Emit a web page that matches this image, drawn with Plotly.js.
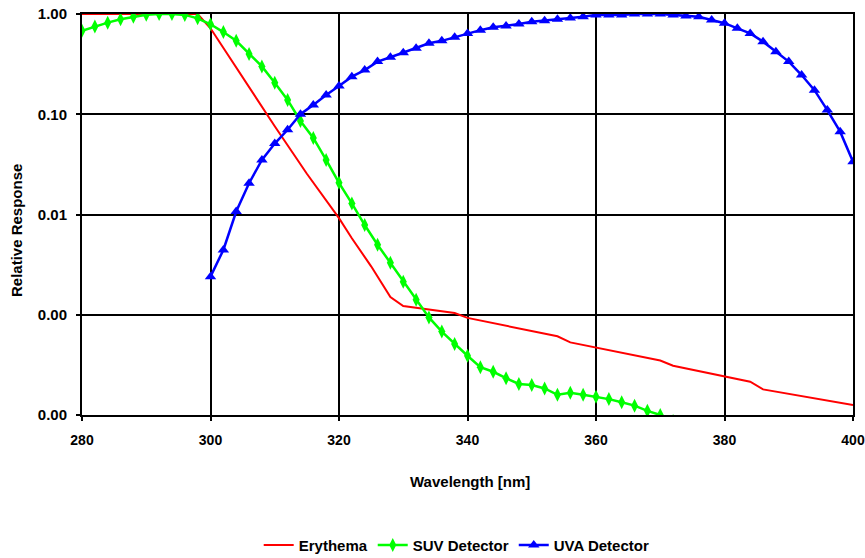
<!DOCTYPE html>
<html>
<head>
<meta charset="utf-8">
<script src="https://cdn.plot.ly/plotly-3.0.1.min.js"></script>
<style>html,body{margin:0;padding:0;background:#fff;}#chart{width:865px;height:558px;}</style>
</head>
<body>
<div id="chart"></div>
<script>
// Erythema (red)
const eryWl  = [280, 298, 300, 305, 310, 315, 320, 322, 325, 328, 330, 338, 340, 354, 356, 370, 372, 384, 386, 400];
const eryVal = [1.0, 1.0, 0.72, 0.233, 0.076, 0.0255, 0.0092, 0.0058, 0.00304, 0.0015, 0.00122, 0.00104, 0.00093, 0.00061, 0.00053, 0.00035, 0.00031, 0.000215, 0.00018, 0.000126];

// SUV Detector (green), every 2 nm
const suvWl  = [280, 282, 284, 286, 288, 290, 292, 294, 296, 298, 300, 302, 304, 306, 308, 310, 312, 314, 316, 318, 320, 322, 324, 326, 328, 330, 332, 334, 336, 338, 340, 342, 344, 346, 348, 350, 352, 354, 356, 358, 360, 362, 364, 366, 368, 370, 372];
const suvVal = [0.68, 0.75, 0.82, 0.885, 0.94, 0.985, 1.0, 1.0, 0.98, 0.905, 0.79, 0.66, 0.54, 0.40, 0.30, 0.206, 0.139, 0.0857, 0.058, 0.035, 0.0207, 0.0129, 0.00785, 0.0050, 0.0033, 0.00214, 0.00141, 0.00094, 0.00068, 0.00051, 0.00039, 0.00030, 0.00027, 0.000233, 0.000204, 0.000199, 0.000184, 0.000159, 0.000167, 0.000159, 0.000152, 0.000144, 0.000134, 0.000124, 0.000110, 0.000100, 0.000087];

// UVA Detector (blue), every 2 nm
const uvaWl  = [300, 302, 304, 306, 308, 310, 312, 314, 316, 318, 320, 322, 324, 326, 328, 330, 332, 334, 336, 338, 340, 342, 344, 346, 348, 350, 352, 354, 356, 358, 360, 362, 364, 366, 368, 370, 372, 374, 376, 378, 380, 382, 384, 386, 388, 390, 392, 394, 396, 398, 400];
const uvaVal = [0.0024, 0.00443, 0.0107, 0.0205, 0.035, 0.051, 0.070, 0.10, 0.124, 0.156, 0.191, 0.237, 0.276, 0.335, 0.37, 0.41, 0.455, 0.51, 0.54, 0.585, 0.64, 0.69, 0.736, 0.76, 0.795, 0.838, 0.857, 0.885, 0.91, 0.94, 0.98, 0.98, 0.98, 1.0, 1.0, 1.0, 0.98, 0.955, 0.94, 0.87, 0.81, 0.72, 0.64, 0.53, 0.42, 0.335, 0.246, 0.174, 0.11, 0.067, 0.0336];

const xTicks = [280, 300, 320, 340, 360, 380, 400];
const yTickVals = [1, 0.1, 0.01, 0.001, 0.0001];
const yTickText = ['1.00', '0.10', '0.01', '0.00', '0.00'];

const FONT = 'Liberation Sans, Arial, sans-serif';
const bold = (s) => ({family: FONT, size: s, color: '#000', weight: 'bold'});

const traces = [
  {x: eryWl, y: eryVal, name: 'Erythema', mode: 'lines', type: 'scatter',
   line: {color: '#FF0000', width: 2}},
  {x: suvWl, y: suvVal, name: 'SUV Detector', mode: 'lines+markers', type: 'scatter',
   line: {color: '#00FF00', width: 2.5},
   marker: {symbol: 'diamond-tall', size: 10, color: '#00FF00'}},
  {x: uvaWl, y: uvaVal, name: 'UVA Detector', mode: 'lines+markers', type: 'scatter',
   line: {color: '#0000FF', width: 2.5},
   marker: {symbol: 'triangle-up', size: 10, color: '#0000FF'}}
];

const layout = {
  width: 865, height: 558,
  margin: {l: 82, r: 12, t: 14, b: 143, autoexpand: false},
  paper_bgcolor: '#fff', plot_bgcolor: '#fff',
  font: {family: FONT, size: 15, color: '#000'},
  showlegend: true,
  legend: {orientation: 'h', x: 0.486, xanchor: 'center', y: -0.325, yanchor: 'middle',
           font: bold(15), itemwidth: 30, tracegroupgap: 0},
  xaxis: {
    range: [280, 400], tickvals: xTicks, ticktext: xTicks.map(String),
    showgrid: true, gridcolor: '#000', gridwidth: 2,
    showline: true, linecolor: '#000', linewidth: 2, mirror: true,
    ticks: 'outside', ticklen: 4, tickwidth: 2, tickcolor: '#000',
    ticklabelstandoff: 7, ticklabeloverflow: 'allow',
    tickfont: bold(14),
    zeroline: false
  },
  yaxis: {
    type: 'log', range: [-4, 0],
    tickvals: yTickVals, ticktext: yTickText,
    showgrid: true, gridcolor: '#000', gridwidth: 2,
    showline: true, linecolor: '#000', linewidth: 2, mirror: true,
    ticks: 'outside', ticklen: 4, tickwidth: 2, tickcolor: '#000',
    ticklabelstandoff: 6, ticklabeloverflow: 'allow',
    tickfont: bold(15),
    zeroline: false
  },
  annotations: [
    {text: 'Wavelength [nm]', xref: 'paper', yref: 'paper', x: 0.5026, y: -0.1646,
     xanchor: 'center', yanchor: 'middle', showarrow: false, font: bold(15)},
    {text: 'Relative Response', xref: 'paper', yref: 'paper', x: -0.0842, y: 0.459,
     xanchor: 'center', yanchor: 'middle', showarrow: false, textangle: -90, font: bold(15)}
  ]
};

Plotly.newPlot('chart', traces, layout, {displayModeBar: false, staticPlot: true});
</script>
</body>
</html>
